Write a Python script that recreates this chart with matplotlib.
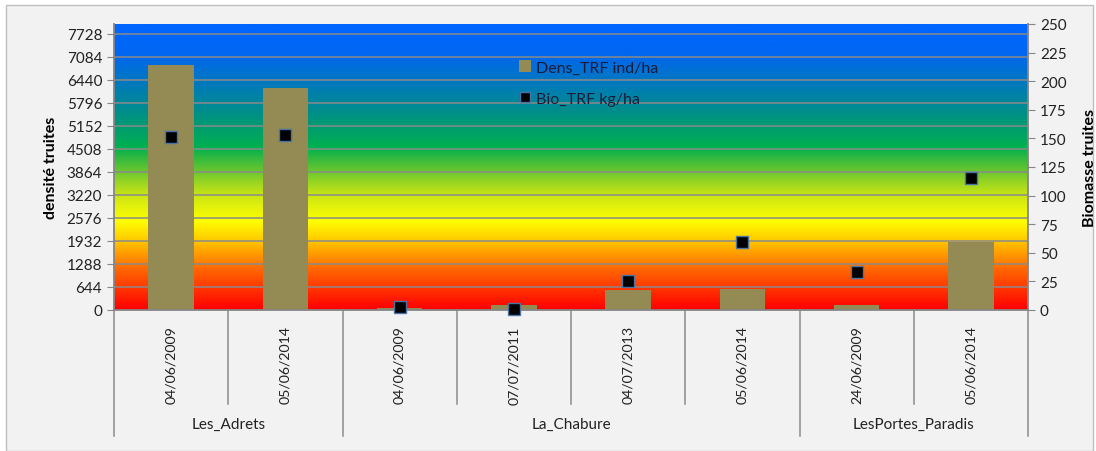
import numpy as np
import matplotlib
matplotlib.use('Agg')
import matplotlib.pyplot as plt
from matplotlib.colors import LinearSegmentedColormap
from matplotlib.patches import Rectangle, Patch
from matplotlib.lines import Line2D
import matplotlib.transforms as mtransforms

plt.rcParams['font.family'] = ['Lato', 'DejaVu Sans']

# data
dates = ['04/06/2009', '05/06/2014',
         '04/06/2009', '07/07/2011', '04/07/2013', '05/06/2014',
         '24/06/2009', '05/06/2014']
stations = ['Les_Adrets', 'La_Chabure', 'LesPortes_Paradis']
station_sizes = [2, 4, 2]
dens = [6860, 6210, 56, 131, 559, 587, 140, 1911]      # ind/ha
bio = [151.5, 153.2, 2.4, 0.6, 25.1, 59.7, 33.5, 115.6]  # kg/ha

left_ticks = [0, 644, 1288, 1932, 2576, 3220, 3864, 4508, 5152, 5796, 6440, 7084, 7728]
right_ticks = [0, 25, 50, 75, 100, 125, 150, 175, 200, 225, 250]

W, H = 1096, 452
fig = plt.figure(figsize=(W/100, H/100), dpi=100)
fig.patch.set_facecolor('white')
fig.patches.append(Rectangle((6/W, 0), (1093-6)/W, (H-6)/H, transform=fig.transFigure,
                             facecolor='#f2f2f2', edgecolor='#bfbfbf', lw=1, zorder=-5))

x0, x1, ytop, ybot = 114, 1028, 25, 311
ax = fig.add_axes([x0/W, (H-ybot)/H, (x1-x0)/W, (ybot-ytop)/H])
ax.set_facecolor('none')
n = len(dates)
x = np.arange(n)

# background colour gradient (red -> yellow -> green -> blue)
grad_cmap = LinearSegmentedColormap.from_list('bg', [
    (0.00, (1.00, 0.00, 0.00)),
    (0.14, (1.00, 0.40, 0.00)),
    (0.24, (1.00, 0.78, 0.00)),
    (0.31, (1.00, 1.00, 0.00)),
    (0.40, (0.80, 0.90, 0.08)),
    (0.50, (0.35, 0.76, 0.20)),
    (0.57, (0.00, 0.69, 0.31)),
    (0.68, (0.00, 0.57, 0.51)),
    (0.80, (0.00, 0.47, 0.75)),
    (0.90, (0.00, 0.40, 0.95)),
    (1.00, (0.00, 0.40, 1.00)),
])
ax.imshow(np.linspace(0, 1, 500).reshape(-1, 1), cmap=grad_cmap, origin='lower',
          extent=[-0.5, n-0.5, 0, 8000], aspect='auto', zorder=0)

for v in left_ticks[1:]:
    ax.axhline(v, color='#8a8a8a', lw=1.1, zorder=1)

bar_color = '#948a54'
ax.bar(x, dens, width=0.4, color=bar_color, zorder=2)
ax.set_xlim(-0.5, n-0.5)
ax.set_ylim(0, 8000)
ax.set_yticks(left_ticks)
ax.set_ylabel('densité truites', fontsize=11.5, fontweight='bold', labelpad=6)
ax.set_xticks(x)
ax.set_xticklabels(dates, rotation=90, fontsize=10.2, color='#222222')
ax.tick_params(axis='x', length=0, pad=11)
ax.tick_params(axis='y', colors='#868686', labelcolor='#222222', labelsize=11, length=5)
for s in ['top', 'right']:
    ax.spines[s].set_visible(False)
for s in ['left', 'bottom']:
    ax.spines[s].set_color('#868686')
    ax.spines[s].set_linewidth(1.3)

ax2 = ax.twinx()
ax2.plot(x, bio, ls='none', marker='s', markersize=9, markerfacecolor='black',
         markeredgecolor='#4a74a8', markeredgewidth=1, clip_on=False, zorder=3)
ax2.set_ylim(0, 250)
ax2.set_yticks(right_ticks)
ax2.set_ylabel('Biomasse truites', fontsize=11.5, fontweight='bold', labelpad=12)
ax2.tick_params(axis='y', colors='#868686', labelcolor='#222222', labelsize=11, length=5)
for s in ['top', 'left', 'bottom']:
    ax2.spines[s].set_visible(False)
ax2.spines['right'].set_color('#868686')
ax2.spines['right'].set_linewidth(1.3)

# two-level category axis
trans = mtransforms.blended_transform_factory(ax.transData, ax.transAxes)
short_y = (ybot - 405) / (ybot - ytop)
long_y = (ybot - 437) / (ybot - ytop)
label_y = (ybot - 425) / (ybot - ytop)
bounds = np.cumsum([0] + station_sizes) - 0.5
for b in np.arange(n + 1) - 0.5:
    is_group = np.any(np.isclose(bounds, b))
    ax.add_line(Line2D([b, b], [0, long_y if is_group else short_y], transform=trans,
                       color='#8c8c8c', lw=1.1, clip_on=False))
for i, name in enumerate(stations):
    ax.text((bounds[i] + bounds[i+1]) / 2, label_y, name, transform=trans,
            ha='center', va='center', fontsize=11, color='#222222')

handles = [Patch(facecolor=bar_color, edgecolor='none'),
           Line2D([], [], ls='none', marker='s', markersize=7, markerfacecolor='black',
                  markeredgecolor='#4a74a8')]
fig.legend(handles, ['Dens_TRF ind/ha', 'Bio_TRF kg/ha'], loc='upper left',
           bbox_to_anchor=(505/W, 1 - 47/H), frameon=False, fontsize=11.5,
           labelspacing=1.05, handlelength=0.75, handletextpad=0.3, labelcolor='#1a1a3a')

fig.savefig('out.png', dpi=100)
